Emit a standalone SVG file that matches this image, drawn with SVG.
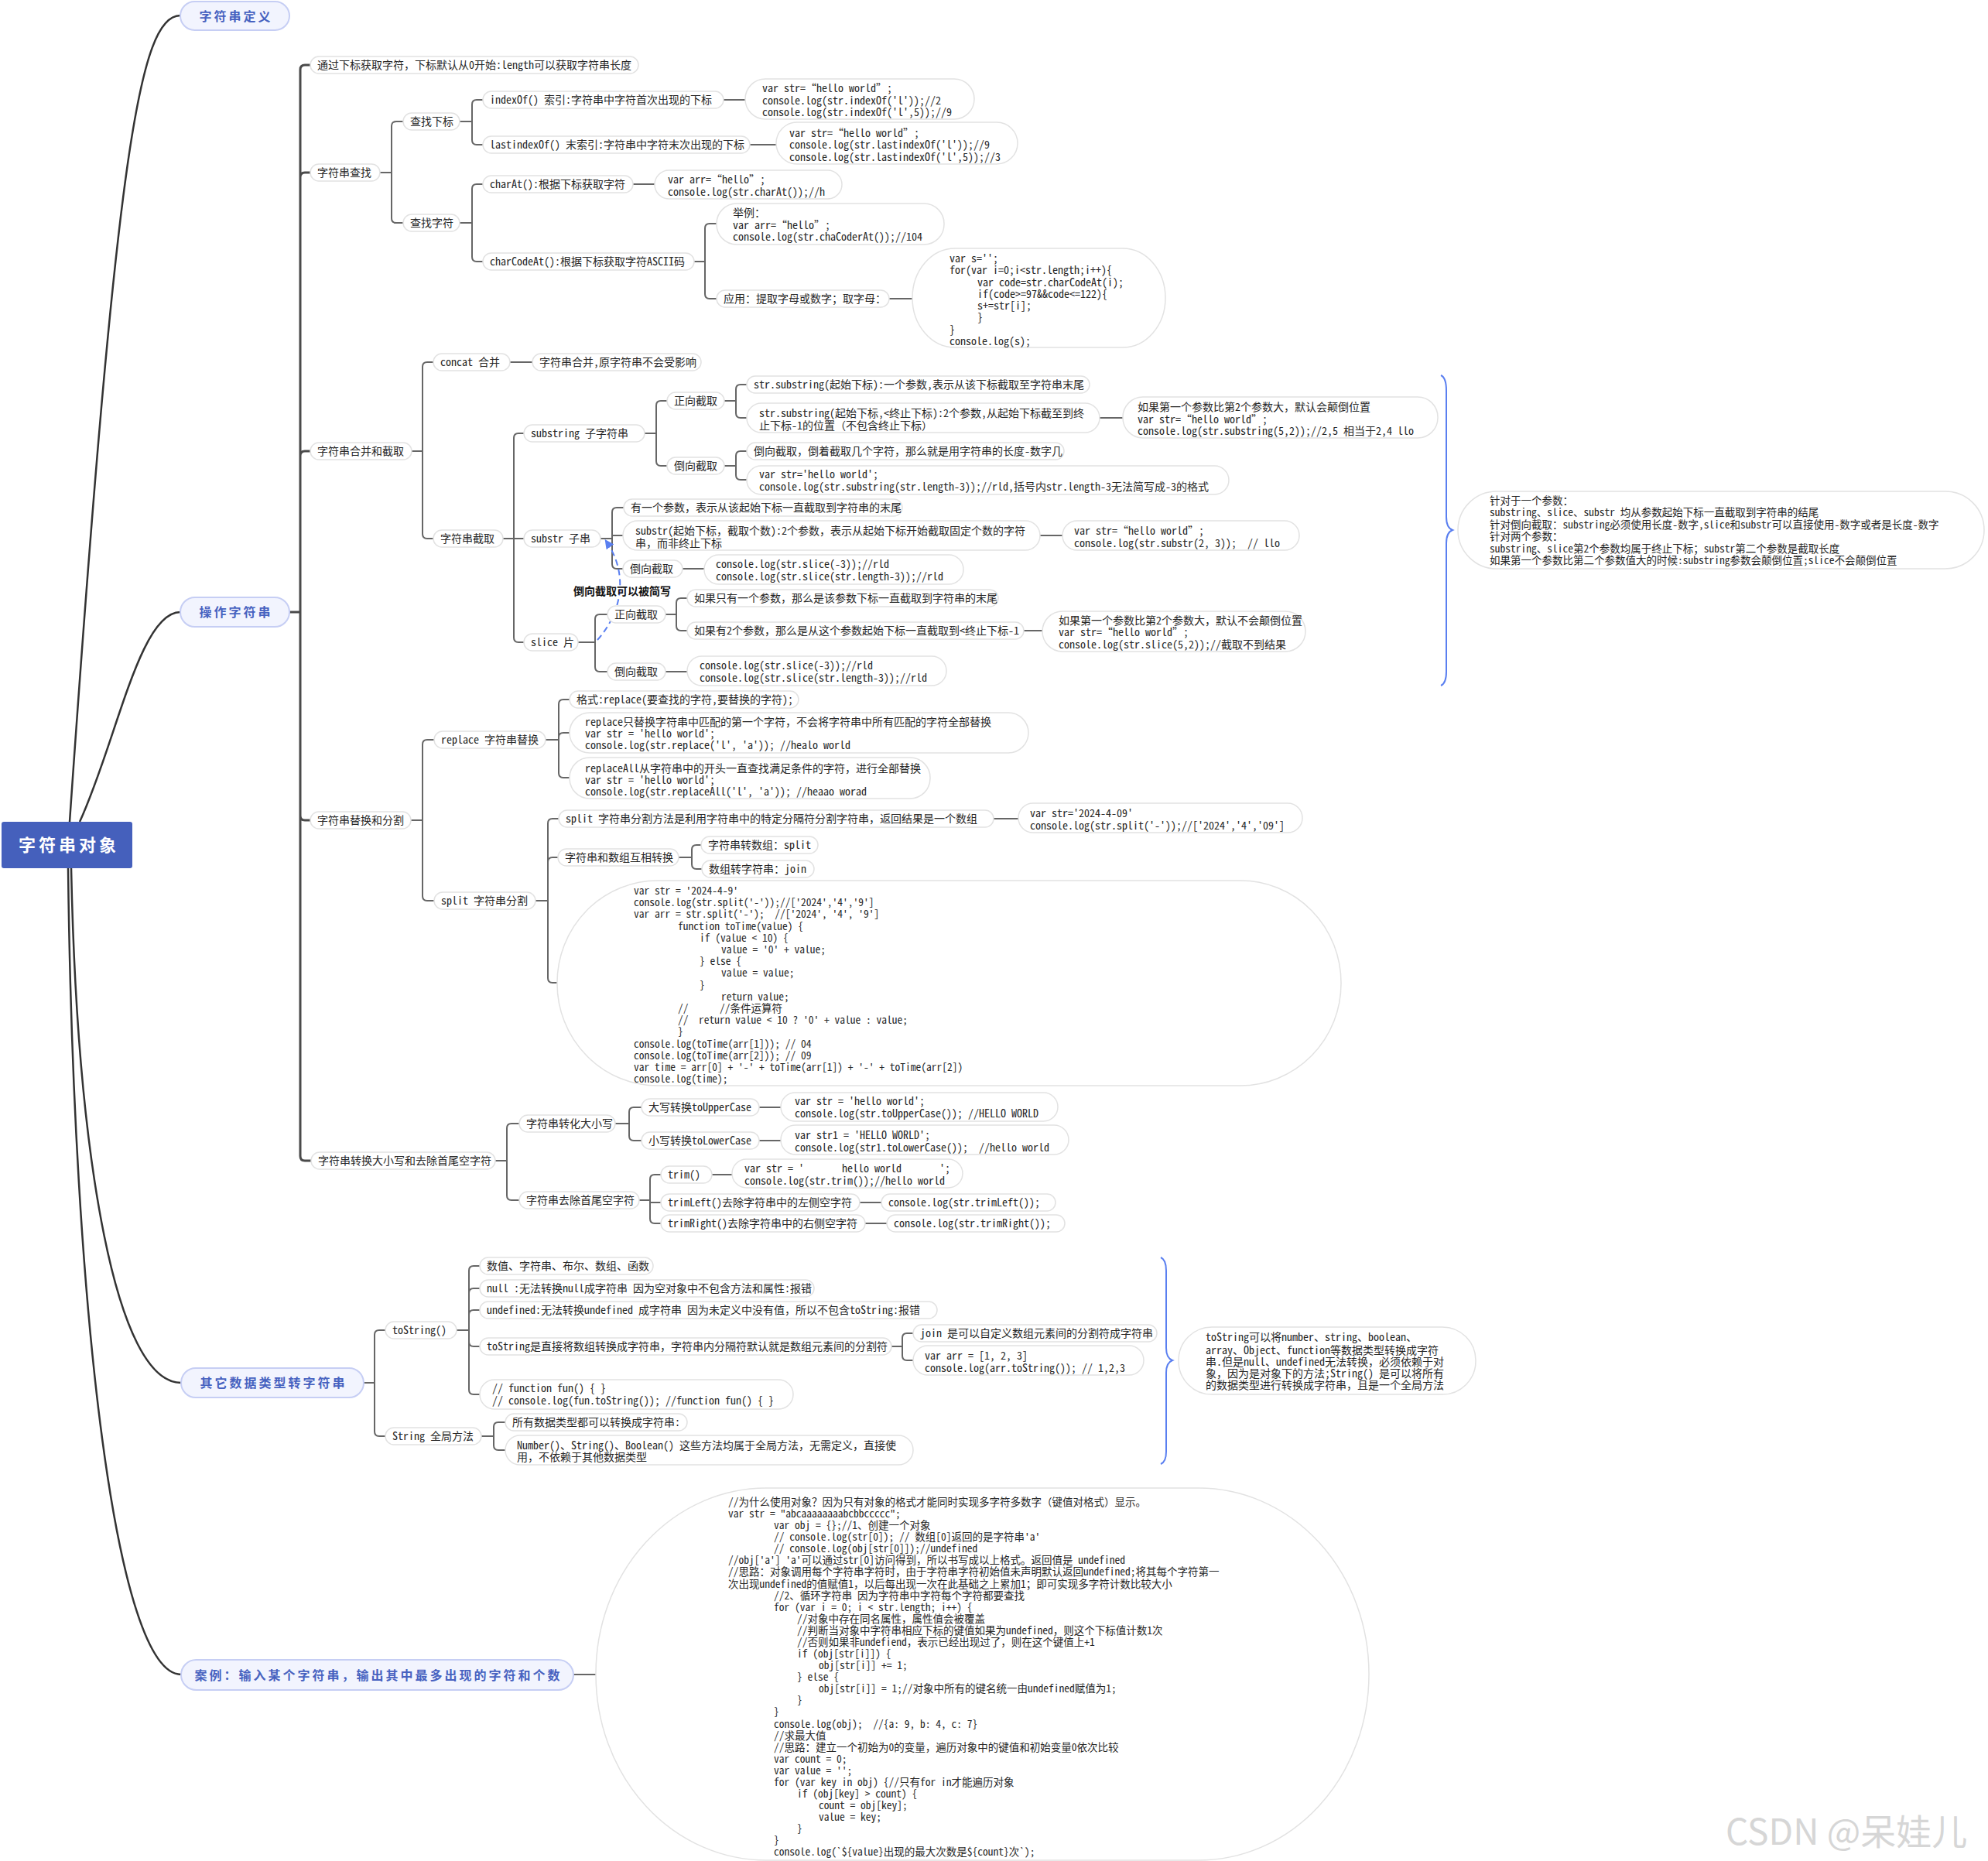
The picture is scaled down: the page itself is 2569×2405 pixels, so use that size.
<svg xmlns="http://www.w3.org/2000/svg" width="2569" height="2405" viewBox="0 0 2569 2405">
<style>
.n rect{fill:#fff;stroke:#e2e2e2;stroke-width:1.5}
.n text,.lb{font-family:"Noto Sans Mono CJK SC","Noto Sans CJK SC","Liberation Mono",monospace;font-size:14px;fill:#262626}
.n text.cs{font-size:13.5px}
.lb{font-weight:bold;fill:#111}
.l1 rect{fill:#f2f4fe;stroke:#c6cef4;stroke-width:2}
.l1 text{font-family:"Noto Sans CJK SC",sans-serif;font-size:16px;font-weight:bold;fill:#4762c0;letter-spacing:3px;text-anchor:middle}
.rt{font-family:"Noto Sans CJK SC",sans-serif;font-size:22px;font-weight:bold;fill:#fff;letter-spacing:4px;text-anchor:middle}
.c{fill:none;stroke:#666;stroke-width:2}
.t{fill:none;stroke:#4a4a4a;stroke-width:3}
.r{fill:none;stroke:#333;stroke-width:2.5}
.br{fill:none;stroke:#5a7ff0;stroke-width:2}
.da{fill:none;stroke:#5a7ff0;stroke-width:2;stroke-dasharray:8 5}
.wm{font-family:"Noto Sans CJK SC",sans-serif;font-size:46px;fill:#d6d6d6}
</style>
<defs>
<marker id="ah" viewBox="0 0 10 10" refX="8" refY="5" markerWidth="6" markerHeight="6" orient="auto" markerUnits="strokeWidth"><path d="M0,0 L10,5 L0,10 z" fill="#5a7ff0"/></marker>
</defs>
<rect width="2569" height="2405" fill="#fff"/>
<g id="connectors">
<path class="r" d="M90,1062 C150,200 180,20 233,20"/>
<path class="r" d="M103,1062 C150,960 180,791 233,791"/>
<path class="r" d="M92,1122 C100,1500 150,1787 234,1787"/>
<path class="r" d="M88,1122 C95,1700 150,2164 234,2164"/>
<path class="t" d="M374,791 H388 M388,791 V90 Q388,84 394,84 H401 M388,791 V229 Q388,223 394,223 H401 M388,791 V589 Q388,583 394,583 H401 M388,791 V1054 Q388,1060 394,1060 H401 M388,791 V1494 Q388,1500 394,1500 H402"/>
<path class="c" d="M491,223 H506 M506,223 V163 Q506,157 512,157 H521 M506,223 V282 Q506,288 512,288 H521"/>
<path class="c" d="M594,157 H610 M610,157 V135 Q610,129 616,129 H624 M610,157 V181 Q610,187 616,187 H624"/>
<path class="c" d="M935,129 H963 M969,187 H1003"/>
<path class="c" d="M594,288 H610 M610,288 V244 Q610,238 616,238 H624 M610,288 V332 Q610,338 616,338 H624"/>
<path class="c" d="M818,238 H846"/>
<path class="c" d="M897,338 H911 M911,338 V295 Q911,289 917,289 H926 M911,338 V380 Q911,386 917,386 H926"/>
<path class="c" d="M1149,386 H1179"/>
<path class="c" d="M532,583 H546 M546,583 V474 Q546,468 552,468 H560 M546,583 V690 Q546,696 552,696 H560"/>
<path class="c" d="M659,468 H688"/>
<path class="c" d="M650,696 H677 M664,696 V566 Q664,560 670,560 H677 M664,696 V824 Q664,830 670,830 H677"/>
<path class="c" d="M833,560 H848 M848,560 V524 Q848,518 854,518 H862 M848,560 V596 Q848,602 854,602 H862"/>
<path class="c" d="M936,518 H951 M951,518 V503 Q951,497 957,497 H965 M951,518 V534 Q951,540 957,540 H965"/>
<path class="c" d="M1421,540 H1451"/>
<path class="c" d="M936,602 H951 M951,602 V589 Q951,583 957,583 H965 M951,602 V614 Q951,620 957,620 H965"/>
<path class="c" d="M776,696 H791 M791,696 V662 Q791,656 797,656 H806 M791,696 V692 H805 M791,696 V729 Q791,735 797,735 H805"/>
<path class="c" d="M1344,692 H1373 M882,735 H910"/>
<path class="c" d="M747,830 H769 M769,830 V800 Q769,794 775,794 H785 M769,830 V862 Q769,868 775,868 H785"/>
<path class="c" d="M860,794 H874 M874,794 V779 Q874,773 880,773 H888 M874,794 V809 Q874,815 880,815 H888"/>
<path class="c" d="M1323,815 H1347 M860,868 H888"/>
<path class="c" d="M531,1060 H546 M546,1060 V962 Q546,956 552,956 H561 M546,1060 V1158 Q546,1164 552,1164 H561"/>
<path class="c" d="M705,956 H722 M722,956 V910 Q722,904 728,904 H736 M722,956 V953 Q722,947 728,947 H736 M722,956 V999 Q722,1005 728,1005 H736"/>
<path class="c" d="M692,1164 H708 M708,1164 V1064 Q708,1058 714,1058 H722 M708,1164 V1114 Q708,1108 714,1108 H721 M708,1164 V1264 Q708,1270 714,1270 H720"/>
<path class="c" d="M1284,1058 H1316"/>
<path class="c" d="M877,1108 H894 M894,1108 V1098 Q894,1092 900,1092 H906 M894,1108 V1117 Q894,1123 900,1123 H907"/>
<path class="c" d="M640,1500 H655 M655,1500 V1458 Q655,1452 661,1452 H671 M655,1500 V1545 Q655,1551 661,1551 H671"/>
<path class="c" d="M795,1452 H813 M813,1452 V1437 Q813,1431 819,1431 H829 M813,1452 V1468 Q813,1474 819,1474 H829"/>
<path class="c" d="M981,1431 H1009 M981,1474 H1009"/>
<path class="c" d="M826,1551 H840 M840,1551 V1524 Q840,1518 846,1518 H854 M840,1551 V1554 H854 M840,1551 V1575 Q840,1581 846,1581 H854"/>
<path class="c" d="M920,1518 H946 M1111,1554 H1139 M1118,1581 H1146"/>
<path class="c" d="M470,1787 H484 M484,1787 V1725 Q484,1719 490,1719 H498 M484,1787 V1850 Q484,1856 490,1856 H498"/>
<path class="c" d="M590,1719 H606 M606,1719 V1642 Q606,1636 612,1636 H620 M606,1719 V1671 Q606,1665 612,1665 H620 M606,1719 V1699 Q606,1693 612,1693 H620 M606,1719 V1734 Q606,1740 612,1740 H620 M606,1719 V1796 Q606,1802 612,1802 H620"/>
<path class="c" d="M1152,1740 H1166 M1166,1740 V1729 Q1166,1723 1172,1723 H1180 M1166,1740 V1752 Q1166,1758 1172,1758 H1180"/>
<path class="c" d="M622,1856 H638 M638,1856 V1844 Q638,1838 644,1838 H653 M638,1856 V1868 Q638,1874 644,1874 H653"/>
<path class="c" d="M741,2164 H770"/>
<path class="br" d="M1862,485 Q1869,488 1869,505 L1869,668 Q1869,682 1877,685 Q1869,688 1869,702 L1869,868 Q1869,883 1862,886"/>
<path class="br" d="M1500,1625 Q1507,1628 1507,1642 L1507,1742 Q1507,1755 1515,1758 Q1507,1761 1507,1774 L1507,1876 Q1507,1889 1500,1892"/>
<path class="da" d="M772,827 C805,790 812,740 783,699" marker-end="url(#ah)"/>
<text class="lb" x="741" y="769">倒向截取可以被简写</text>
</g>
<g id="root"><rect x="2" y="1062" width="169" height="60" rx="3" fill="#4560bc"/><text class="rt" x="89" y="1100">字符串对象</text></g>
<g id="n_def" class="l1"><rect x="233" y="2" width="141" height="37" rx="18.5"/><text x="305" y="26.5">字符串定义</text></g>
<g id="n_ops" class="l1"><rect x="233" y="772" width="141" height="38" rx="19"/><text x="305" y="797">操作字符串</text></g>
<g id="n_other" class="l1"><rect x="234" y="1768" width="236" height="38" rx="19"/><text x="353.5" y="1793">其它数据类型转字符串</text></g>
<g id="n_case" class="l1"><rect x="234" y="2145" width="507" height="39" rx="19.5"/><text x="489" y="2170.5">案例：输入某个字符串，输出其中最多出现的字符和个数</text></g>

<g id="n_a1" class="n"><rect x="401" y="73" width="424" height="22" rx="11"/><text x="410" y="89">通过下标获取字符，下标默认从0开始:length可以获取字符串长度</text></g>
<g id="n_a2" class="n"><rect x="401" y="212" width="90" height="22" rx="11"/><text x="410" y="228">字符串查找</text></g>
<g id="n_b1" class="n"><rect x="521" y="146" width="73" height="22" rx="11"/><text x="530" y="162">查找下标</text></g>
<g id="n_b2" class="n"><rect x="521" y="277" width="73" height="22" rx="11"/><text x="530" y="293">查找字符</text></g>
<g id="n_c1" class="n"><rect x="624" y="118" width="311" height="22" rx="11"/><text x="633" y="134">indexOf() 索引:字符串中字符首次出现的下标</text></g>
<g id="n_c2" class="n"><rect x="624" y="176" width="345" height="22" rx="11"/><text x="633" y="192">lastindexOf() 末索引:字符串中字符末次出现的下标</text></g>
<g id="n_d1" class="n"><rect x="963" y="102" width="296" height="52" rx="26"/><text><tspan x="985" y="119">var str=“hello world”;</tspan><tspan x="985" y="135">console.log(str.indexOf('l'));//2</tspan><tspan x="985" y="150">console.log(str.indexOf('l',5));//9</tspan></text></g>
<g id="n_d2" class="n"><rect x="1003" y="158" width="312" height="54" rx="27"/><text><tspan x="1020" y="177">var str=“hello world”;</tspan><tspan x="1020" y="192">console.log(str.lastindexOf('l'));//9</tspan><tspan x="1020" y="208">console.log(str.lastindexOf('l',5));//3</tspan></text></g>
<g id="n_c3" class="n"><rect x="624" y="227" width="194" height="22" rx="11"/><text x="633" y="243">charAt():根据下标获取字符</text></g>
<g id="n_c4" class="n"><rect x="624" y="327" width="273" height="22" rx="11"/><text x="633" y="343">charCodeAt():根据下标获取字符ASCII码</text></g>
<g id="n_d3" class="n"><rect x="846" y="220" width="242" height="37" rx="18.5"/><text><tspan x="863" y="237">var arr=“hello”;</tspan><tspan x="863" y="253">console.log(str.charAt());//h</tspan></text></g>
<g id="n_d4" class="n"><rect x="926" y="263" width="294" height="53" rx="26"/><text><tspan x="947" y="280">举例：</tspan><tspan x="947" y="296">var arr=“hello”;</tspan><tspan x="947" y="311">console.log(str.chaCoderAt());//104</tspan></text></g>
<g id="n_d5" class="n"><rect x="926" y="375" width="223" height="22" rx="11"/><text x="935" y="391">应用：提取字母或数字；取字母：</text></g>
<g id="n_e1" class="n"><rect x="1179" y="321" width="327" height="128" rx="55" ry="64"/><text><tspan x="1227" y="339">var s='';</tspan><tspan x="1227" y="354">for(var i=0;i&lt;str.length;i++){</tspan><tspan x="1263" y="370">var code=str.charCodeAt(i);</tspan><tspan x="1263" y="385">if(code&gt;=97&amp;&amp;code&lt;=122){</tspan><tspan x="1263" y="400">s+=str[i];</tspan><tspan x="1263" y="415">}</tspan><tspan x="1227" y="431">}</tspan><tspan x="1227" y="446">console.log(s);</tspan></text></g>

<g id="n_a3" class="n"><rect x="401" y="572" width="131" height="22" rx="11"/><text x="410" y="588">字符串合并和截取</text></g>
<g id="n_b3" class="n"><rect x="560" y="457" width="99" height="22" rx="11"/><text x="569" y="473">concat 合并</text></g>
<g id="n_c5" class="n"><rect x="688" y="457" width="218" height="22" rx="11"/><text x="697" y="473">字符串合并,原字符串不会受影响</text></g>
<g id="n_b4" class="n"><rect x="560" y="685" width="90" height="22" rx="11"/><text x="569" y="701">字符串截取</text></g>
<g id="n_c6" class="n"><rect x="677" y="549" width="156" height="22" rx="11"/><text x="686" y="565">substring 子字符串</text></g>
<g id="n_d6" class="n"><rect x="862" y="507" width="74" height="22" rx="11"/><text x="871" y="523">正向截取</text></g>
<g id="n_e2" class="n"><rect x="965" y="486" width="443" height="22" rx="11"/><text x="974" y="502">str.substring(起始下标):一个参数,表示从该下标截取至字符串末尾</text></g>
<g id="n_e3" class="n"><rect x="965" y="521" width="456" height="38" rx="19"/><text><tspan x="981" y="539">str.substring(起始下标,&lt;终止下标):2个参数,从起始下标截至到终</tspan><tspan x="981" y="555">止下标-1的位置（不包含终止下标）</tspan></text></g>
<g id="n_f1" class="n"><rect x="1451" y="513" width="407" height="53" rx="26"/><text><tspan x="1470" y="531">如果第一个参数比第2个参数大，默认会颠倒位置</tspan><tspan x="1470" y="547">var str=“hello world”;</tspan><tspan x="1470" y="562">console.log(str.substring(5,2));//2,5 相当于2,4 llo</tspan></text></g>
<g id="n_d7" class="n"><rect x="862" y="591" width="74" height="22" rx="11"/><text x="871" y="607">倒向截取</text></g>
<g id="n_e4" class="n"><rect x="965" y="572" width="410" height="22" rx="11"/><text x="974" y="588">倒向截取，倒着截取几个字符，那么就是用字符串的长度-数字几</text></g>
<g id="n_e5" class="n"><rect x="965" y="602" width="623" height="37" rx="18.5"/><text><tspan x="981" y="618">var str='hello world';</tspan><tspan x="981" y="634">console.log(str.substring(str.length-3));//rld,括号内str.length-3无法简写成-3的格式</tspan></text></g>
<g id="n_c7" class="n"><rect x="677" y="685" width="99" height="22" rx="11"/><text x="686" y="701">substr 子串</text></g>
<g id="n_d8" class="n"><rect x="806" y="645" width="360" height="22" rx="11"/><text x="815" y="661">有一个参数，表示从该起始下标一直截取到字符串的末尾</text></g>
<g id="n_d9" class="n"><rect x="805" y="673" width="539" height="38" rx="19"/><text><tspan x="821" y="691">substr(起始下标，截取个数):2个参数，表示从起始下标开始截取固定个数的字符</tspan><tspan x="821" y="707">串，而非终止下标</tspan></text></g>
<g id="n_e6" class="n"><rect x="1373" y="673" width="306" height="38" rx="19"/><text xml:space="preserve"><tspan x="1388" y="691">var str=“hello world”;</tspan><tspan x="1388" y="707">console.log(str.substr(2, 3));  // llo</tspan></text></g>
<g id="n_d10" class="n"><rect x="805" y="724" width="77" height="22" rx="11"/><text x="814" y="740">倒向截取</text></g>
<g id="n_e7" class="n"><rect x="910" y="717" width="335" height="38" rx="19"/><text><tspan x="925" y="734">console.log(str.slice(-3));//rld</tspan><tspan x="925" y="750">console.log(str.slice(str.length-3));//rld</tspan></text></g>
<g id="n_c8" class="n"><rect x="677" y="819" width="70" height="22" rx="11"/><text x="686" y="835">slice 片</text></g>
<g id="n_d11" class="n"><rect x="785" y="783" width="75" height="22" rx="11"/><text x="794" y="799">正向截取</text></g>
<g id="n_e8" class="n"><rect x="888" y="762" width="402" height="22" rx="11"/><text x="897" y="778">如果只有一个参数，那么是该参数下标一直截取到字符串的末尾</text></g>
<g id="n_e9" class="n"><rect x="888" y="804" width="435" height="22" rx="11"/><text x="897" y="820">如果有2个参数，那么是从这个参数起始下标一直截取到&lt;终止下标-1</text></g>
<g id="n_f2" class="n"><rect x="1347" y="790" width="340" height="52" rx="26"/><text><tspan x="1368" y="807">如果第一个参数比第2个参数大，默认不会颠倒位置</tspan><tspan x="1368" y="822">var str=“hello world”;</tspan><tspan x="1368" y="838">console.log(str.slice(5,2));//截取不到结果</tspan></text></g>
<g id="n_d12" class="n"><rect x="785" y="857" width="75" height="22" rx="11"/><text x="794" y="873">倒向截取</text></g>
<g id="n_e10" class="n"><rect x="888" y="848" width="335" height="38" rx="19"/><text><tspan x="904" y="865">console.log(str.slice(-3));//rld</tspan><tspan x="904" y="881">console.log(str.slice(str.length-3));//rld</tspan></text></g>
<g id="n_note1" class="n"><rect x="1884" y="635" width="680" height="100" rx="50"/><text class="cs"><tspan x="1925" y="652">针对于一个参数：</tspan><tspan x="1925" y="667.4">substring、slice、substr 均从参数起始下标一直截取到字符串的结尾</tspan><tspan x="1925" y="682.8">针对倒向截取：substring必须使用长度-数字,slice和substr可以直接使用-数字或者是长度-数字</tspan><tspan x="1925" y="698.2">针对两个参数：</tspan><tspan x="1925" y="713.6">substring、slice第2个参数均属于终止下标；substr第二个参数是截取长度</tspan><tspan x="1925" y="729">如果第一个参数比第二个参数值大的时候:substring参数会颠倒位置;slice不会颠倒位置</tspan></text></g>

<g id="n_a4" class="n"><rect x="401" y="1049" width="130" height="22" rx="11"/><text x="410" y="1065">字符串替换和分割</text></g>
<g id="n_b5" class="n"><rect x="561" y="945" width="144" height="22" rx="11"/><text x="570" y="961">replace 字符串替换</text></g>
<g id="n_c9" class="n"><rect x="736" y="893" width="296" height="22" rx="11"/><text x="745" y="909">格式:replace(要查找的字符,要替换的字符);</text></g>
<g id="n_c10" class="n"><rect x="736" y="921" width="593" height="52" rx="26"/><text><tspan x="756" y="938">replace只替换字符串中匹配的第一个字符，不会将字符串中所有匹配的字符全部替换</tspan><tspan x="756" y="953">var str = 'hello world';</tspan><tspan x="756" y="968">console.log(str.replace('l', 'a')); //healo world</tspan></text></g>
<g id="n_c11" class="n"><rect x="736" y="979" width="466" height="53" rx="26"/><text><tspan x="756" y="998">replaceAll从字符串中的开头一直查找满足条件的字符，进行全部替换</tspan><tspan x="756" y="1013">var str = 'hello world';</tspan><tspan x="756" y="1028">console.log(str.replaceAll('l', 'a')); //heaao worad</tspan></text></g>
<g id="n_b6" class="n"><rect x="561" y="1153" width="131" height="22" rx="11"/><text x="570" y="1169">split 字符串分割</text></g>
<g id="n_c12" class="n"><rect x="722" y="1047" width="562" height="22" rx="11"/><text x="731" y="1063">split 字符串分割方法是利用字符串中的特定分隔符分割字符串，返回结果是一个数组</text></g>
<g id="n_d13" class="n"><rect x="1316" y="1038" width="367" height="38" rx="19"/><text><tspan x="1331" y="1056">var str='2024-4-09'</tspan><tspan x="1331" y="1072">console.log(str.split('-'));//['2024','4','09']</tspan></text></g>
<g id="n_c13" class="n"><rect x="721" y="1097" width="156" height="22" rx="11"/><text x="730" y="1113">字符串和数组互相转换</text></g>
<g id="n_d14" class="n"><rect x="906" y="1081" width="151" height="22" rx="11"/><text x="915" y="1097">字符串转数组：split</text></g>
<g id="n_d15" class="n"><rect x="907" y="1112" width="145" height="22" rx="11"/><text x="916" y="1128">数组转字符串：join</text></g>
<g id="n_c14" class="n"><rect x="720" y="1138" width="1013" height="265" rx="130" ry="132"/><text class="cs" xml:space="preserve"><tspan x="819" y="1156">var str = '2024-4-9'</tspan><tspan x="819" y="1171.2">console.log(str.split('-'));//['2024','4','9']</tspan><tspan x="819" y="1186.4">var arr = str.split('-');  //['2024', '4', '9']</tspan><tspan x="876" y="1201.6">function toTime(value) {</tspan><tspan x="904" y="1216.8">if (value &lt; 10) {</tspan><tspan x="932" y="1232">value = '0' + value;</tspan><tspan x="904" y="1247.1">} else {</tspan><tspan x="932" y="1262.3">value = value;</tspan><tspan x="904" y="1277.5">}</tspan><tspan x="932" y="1292.7">return value;</tspan><tspan x="876" y="1307.9">//      //条件运算符</tspan><tspan x="876" y="1323.1">//  return value &lt; 10 ? '0' + value : value;</tspan><tspan x="876" y="1338.3">}</tspan><tspan x="819" y="1353.5">console.log(toTime(arr[1])); // 04</tspan><tspan x="819" y="1368.7">console.log(toTime(arr[2])); // 09</tspan><tspan x="819" y="1383.8">var time = arr[0] + '-' + toTime(arr[1]) + '-' + toTime(arr[2])</tspan><tspan x="819" y="1399">console.log(time);</tspan></text></g>

<g id="n_a5" class="n"><rect x="402" y="1489" width="238" height="22" rx="11"/><text x="411" y="1505">字符串转换大小写和去除首尾空字符</text></g>
<g id="n_b7" class="n"><rect x="671" y="1441" width="124" height="22" rx="11"/><text x="680" y="1457">字符串转化大小写</text></g>
<g id="n_c15" class="n"><rect x="829" y="1420" width="152" height="22" rx="11"/><text x="838" y="1436">大写转换toUpperCase</text></g>
<g id="n_d16" class="n"><rect x="1009" y="1412" width="358" height="37" rx="18.5"/><text><tspan x="1027" y="1428">var str = 'hello world';</tspan><tspan x="1027" y="1444">console.log(str.toUpperCase()); //HELLO WORLD</tspan></text></g>
<g id="n_c16" class="n"><rect x="829" y="1463" width="152" height="22" rx="11"/><text x="838" y="1479">小写转换toLowerCase</text></g>
<g id="n_d17" class="n"><rect x="1009" y="1454" width="372" height="38" rx="19"/><text xml:space="preserve"><tspan x="1027" y="1472">var str1 = 'HELLO WORLD';</tspan><tspan x="1027" y="1488">console.log(str1.toLowerCase());  //hello world</tspan></text></g>
<g id="n_b8" class="n"><rect x="671" y="1540" width="155" height="22" rx="11"/><text x="680" y="1556">字符串去除首尾空字符</text></g>
<g id="n_c17" class="n"><rect x="854" y="1507" width="66" height="22" rx="11"/><text x="863" y="1523">trim()</text></g>
<g id="n_d18" class="n"><rect x="946" y="1498" width="298" height="37" rx="18.5"/><text xml:space="preserve"><tspan x="962" y="1515">var str = '       hello world       ';</tspan><tspan x="962" y="1531">console.log(str.trim());//hello world</tspan></text></g>
<g id="n_c18" class="n"><rect x="854" y="1543" width="257" height="22" rx="11"/><text x="863" y="1559">trimLeft()去除字符串中的左侧空字符</text></g>
<g id="n_d19" class="n"><rect x="1139" y="1543" width="225" height="22" rx="11"/><text x="1148" y="1559">console.log(str.trimLeft());</text></g>
<g id="n_c19" class="n"><rect x="854" y="1570" width="264" height="22" rx="11"/><text x="863" y="1586">trimRight()去除字符串中的右侧空字符</text></g>
<g id="n_d20" class="n"><rect x="1146" y="1570" width="230" height="22" rx="11"/><text x="1155" y="1586">console.log(str.trimRight());</text></g>

<g id="n_g1" class="n"><rect x="498" y="1708" width="92" height="22" rx="11"/><text x="507" y="1724">toString()</text></g>
<g id="n_h1" class="n"><rect x="620" y="1625" width="224" height="22" rx="11"/><text x="629" y="1641">数值、字符串、布尔、数组、函数</text></g>
<g id="n_h2" class="n"><rect x="620" y="1654" width="432" height="22" rx="11"/><text x="629" y="1670">null :无法转换null成字符串 因为空对象中不包含方法和属性:报错</text></g>
<g id="n_h3" class="n"><rect x="620" y="1682" width="591" height="22" rx="11"/><text x="629" y="1698">undefined:无法转换undefined 成字符串 因为未定义中没有值，所以不包含toString:报错</text></g>
<g id="n_h4" class="n"><rect x="620" y="1729" width="532" height="22" rx="11"/><text x="629" y="1745">toString是直接将数组转换成字符串，字符串内分隔符默认就是数组元素间的分割符</text></g>
<g id="n_i1" class="n"><rect x="1180" y="1712" width="315" height="22" rx="11"/><text x="1189" y="1728">join 是可以自定义数组元素间的分割符成字符串</text></g>
<g id="n_i2" class="n"><rect x="1180" y="1739" width="298" height="38" rx="19"/><text><tspan x="1195" y="1757">var arr = [1, 2, 3]</tspan><tspan x="1195" y="1773">console.log(arr.toString()); // 1,2,3</tspan></text></g>
<g id="n_h5" class="n"><rect x="620" y="1783" width="405" height="38" rx="19"/><text><tspan x="636" y="1799">// function fun() { }</tspan><tspan x="636" y="1815">// console.log(fun.toString()); //function fun() { }</tspan></text></g>
<g id="n_g2" class="n"><rect x="498" y="1845" width="124" height="22" rx="11"/><text x="507" y="1861">String 全局方法</text></g>
<g id="n_h6" class="n"><rect x="653" y="1827" width="235" height="22" rx="11"/><text x="662" y="1843">所有数据类型都可以转换成字符串:</text></g>
<g id="n_h7" class="n"><rect x="653" y="1855" width="527" height="38" rx="19"/><text><tspan x="668" y="1873">Number()、String()、Boolean() 这些方法均属于全局方法，无需定义，直接使</tspan><tspan x="668" y="1888">用，不依赖于其他数据类型</tspan></text></g>
<g id="n_note2" class="n"><rect x="1523" y="1715" width="384" height="87" rx="43"/><text><tspan x="1558" y="1733">toString可以将number、string、boolean、</tspan><tspan x="1558" y="1750">array、Object、function等数据类型转换成字符</tspan><tspan x="1558" y="1765">串.但是null、undefined无法转换，必须依赖于对</tspan><tspan x="1558" y="1780">象，因为是对象下的方法;String() 是可以将所有</tspan><tspan x="1558" y="1795">的数据类型进行转换成字符串，且是一个全局方法</tspan></text></g>

<g id="n_casecode" class="n"><rect x="770" y="1923" width="999" height="481" rx="220" ry="240"/><text class="cs" xml:space="preserve"><tspan x="941" y="1946">//为什么使用对象？因为只有对象的格式才能同时实现多字符多数字（键值对格式）显示。</tspan><tspan x="941" y="1961">var str = "abcaaaaaaaabcbbccccc";</tspan><tspan x="1000" y="1976">var obj = {};//1、创建一个对象</tspan><tspan x="1000" y="1991">// console.log(str[0]); // 数组[0]返回的是字符串'a'</tspan><tspan x="1000" y="2006">// console.log(obj[str[0]]);//undefined</tspan><tspan x="941" y="2021">//obj['a'] 'a'可以通过str[0]访问得到，所以书写成以上格式。返回值是 undefined</tspan><tspan x="941" y="2036">//思路：对象调用每个字符串字符时，由于字符串字符初始值未声明默认返回undefined;将其每个字符第一</tspan><tspan x="941" y="2052">次出现undefined的值赋值1，以后每出现一次在此基础之上累加1；即可实现多字符计数比较大小</tspan><tspan x="1000" y="2067">//2、循环字符串 因为字符串中字符每个字符都要查找</tspan><tspan x="1000" y="2082">for (var i = 0; i &lt; str.length; i++) {</tspan><tspan x="1030" y="2097">//对象中存在同名属性，属性值会被覆盖</tspan><tspan x="1030" y="2112">//判断当对象中字符串相应下标的键值如果为undefined，则这个下标值计数1次</tspan><tspan x="1030" y="2127">//否则如果非undefiend，表示已经出现过了，则在这个键值上+1</tspan><tspan x="1030" y="2142">if (obj[str[i]]) {</tspan><tspan x="1058" y="2157">obj[str[i]] += 1;</tspan><tspan x="1030" y="2172">} else {</tspan><tspan x="1058" y="2187">obj[str[i]] = 1;//对象中所有的键名统一由undefined赋值为1;</tspan><tspan x="1030" y="2202">}</tspan><tspan x="1000" y="2217">}</tspan><tspan x="1000" y="2233">console.log(obj);  //{a: 9, b: 4, c: 7}</tspan><tspan x="1000" y="2248">//求最大值</tspan><tspan x="1000" y="2263">//思路：建立一个初始为0的变量，遍历对象中的键值和初始变量0依次比较</tspan><tspan x="1000" y="2278">var count = 0;</tspan><tspan x="1000" y="2293">var value = '';</tspan><tspan x="1000" y="2308">for (var key in obj) {//只有for in才能遍历对象</tspan><tspan x="1030" y="2323">if (obj[key] &gt; count) {</tspan><tspan x="1058" y="2338">count = obj[key];</tspan><tspan x="1058" y="2353">value = key;</tspan><tspan x="1030" y="2368">}</tspan><tspan x="1000" y="2383">}</tspan><tspan x="1000" y="2398">console.log(`${value}出现的最大次数是${count}次`);</tspan></text></g>

<g id="watermark"><text class="wm" x="2230" y="2384">CSDN @呆娃儿</text></g>
</svg>
